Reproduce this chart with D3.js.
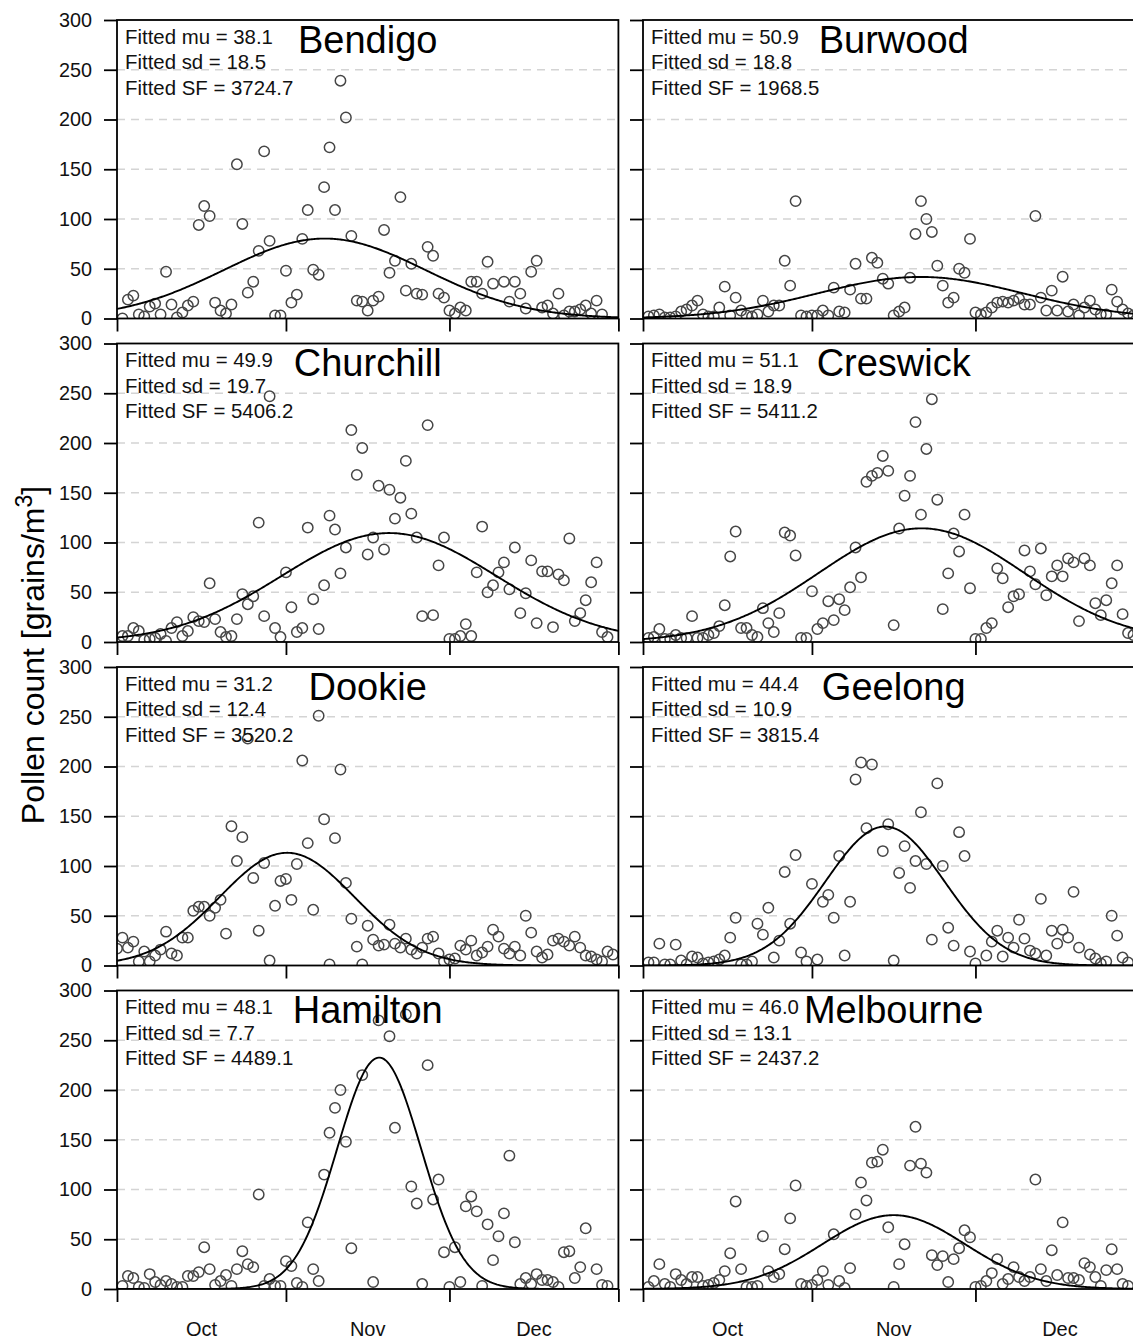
<!DOCTYPE html>
<html>
<head>
<meta charset="utf-8">
<script src="https://cdn.jsdelivr.net/npm/d3@7"></script>
<style>
  body { margin: 0; background: #fff; }
  svg { display: block; font-family: "Liberation Sans", Arial, Helvetica, sans-serif; }
</style>
</head>
<body>
<script>
// sites: [day since 1 Oct, pollen count]
const siteNames = ["Bendigo", "Burwood", "Churchill", "Creswick", "Dookie", "Geelong", "Hamilton", "Melbourne"]
const fitMu = [38.1, 50.9, 49.9, 51.1, 31.2, 44.4, 48.1, 46.0]
const fitSd = [18.5, 18.8, 19.7, 18.9, 12.4, 10.9, 7.7, 13.1]
const fitSF = [3724.7, 1968.5, 5406.2, 5411.2, 3520.2, 3815.4, 4489.1, 2437.2]

const bendigo = [[1,0],[2,19],[3,23],[4,4],[5,2],[6,12],[7,15],[8,4],[9,47],[10,14],[11,1],[12,6],[13,13],[14,17],[15,94],[16,113],[17,103],[18,16],[19,8],[20,5],[21,14],[22,155],[23,95],[24,26],[25,37],[26,68],[27,168],[28,78],[29,3],[30,3],[31,48],[32,16],[33,24],[34,80],[35,109],[36,49],[37,44],[38,132],[39,172],[40,109],[41,239],[42,202],[43,83],[44,18],[45,17],[46,8],[47,18],[48,22],[49,89],[50,46],[51,58],[52,122],[53,28],[54,55],[55,25],[56,24],[57,72],[58,63],[59,25],[60,21],[61,8],[62,5],[63,11],[64,8],[65,37],[66,37],[67,25],[68,57],[69,35],[71,37],[72,17],[73,37],[74,25],[75,10],[76,47],[77,58],[78,11],[79,13],[80,5],[81,25],[82,3],[83,7],[84,7],[85,9],[86,13],[87,5],[88,18],[89,4]]

const burwood = [[1,2],[2,3],[3,4],[4,1],[5,1],[6,2],[7,7],[8,9],[9,13],[10,18],[11,4],[12,2],[13,2],[14,11],[15,32],[16,3],[17,21],[18,8],[19,3],[20,2],[21,4],[22,18],[23,7],[24,13],[25,13],[26,58],[27,33],[28,118],[29,3],[30,2],[31,3],[32,3],[33,8],[34,3],[35,31],[36,7],[37,6],[38,29],[39,55],[40,20],[41,20],[42,61],[43,56],[44,40],[45,35],[46,3],[47,7],[48,11],[49,41],[50,85],[51,118],[52,100],[53,87],[54,53],[55,33],[56,16],[57,21],[58,50],[59,46],[60,80],[61,6],[62,4],[63,6],[64,11],[65,16],[66,17],[67,16],[68,18],[69,20],[70,14],[71,14],[72,103],[73,21],[74,8],[75,28],[76,8],[77,42],[78,7],[79,14],[80,3],[81,11],[82,18],[83,9],[84,4],[85,4],[86,29],[87,17],[88,9],[89,5],[90,3]]

const churchill = [[1,6],[2,6],[3,14],[4,11],[5,2],[6,3],[7,4],[8,8],[9,1],[10,14],[11,20],[12,6],[13,11],[14,25],[15,21],[16,20],[17,59],[18,23],[19,10],[20,5],[21,6],[22,23],[23,48],[24,38],[25,46],[26,120],[27,26],[28,247],[29,14],[30,5],[31,70],[32,35],[33,10],[34,14],[35,115],[36,43],[37,13],[38,57],[39,127],[40,113],[41,69],[42,95],[43,213],[44,168],[45,195],[46,88],[47,105],[48,157],[49,93],[50,153],[51,124],[52,145],[53,182],[54,129],[55,105],[56,26],[57,218],[58,27],[59,77],[60,105],[61,3],[62,3],[63,6],[64,18],[65,6],[66,70],[67,116],[68,50],[69,57],[70,70],[71,80],[72,53],[73,95],[74,29],[75,49],[76,82],[77,19],[78,71],[79,71],[80,15],[81,68],[82,62],[83,104],[84,21],[85,29],[86,42],[87,60],[88,80],[89,10],[90,5]]

const creswick = [[1,4],[2,5],[3,13],[4,3],[5,3],[6,7],[7,4],[8,4],[9,26],[10,4],[11,4],[12,7],[13,9],[14,16],[15,37],[16,86],[17,111],[18,14],[19,14],[20,7],[21,5],[22,34],[23,19],[24,10],[25,29],[26,110],[27,107],[28,87],[29,4],[30,4],[31,51],[32,13],[33,19],[34,41],[35,22],[36,43],[37,32],[38,55],[39,95],[40,65],[41,161],[42,167],[43,170],[44,187],[45,172],[46,17],[47,114],[48,147],[49,167],[50,221],[51,128],[52,194],[53,244],[54,143],[55,33],[56,69],[57,109],[58,91],[59,128],[60,54],[61,3],[62,3],[63,14],[64,19],[65,74],[66,64],[67,35],[68,46],[69,48],[70,92],[71,71],[72,58],[73,94],[74,47],[75,66],[76,77],[77,66],[78,84],[79,80],[80,21],[81,84],[82,77],[83,39],[84,27],[85,42],[86,59],[87,77],[88,28],[89,9],[90,7]]

const dookie = [[0,17],[1,28],[2,18],[3,24],[4,4],[5,14],[6,4],[7,10],[8,16],[9,34],[10,12],[11,10],[12,28],[13,28],[14,55],[15,59],[16,59],[17,50],[18,58],[19,66],[20,32],[21,140],[22,105],[23,129],[24,228],[25,88],[26,35],[27,103],[28,5],[29,60],[30,85],[31,87],[32,66],[33,102],[34,206],[35,123],[36,56],[37,251],[38,147],[39,1],[40,128],[41,197],[42,83],[43,47],[44,19],[45,1],[46,40],[47,26],[48,20],[49,21],[50,41],[51,22],[52,18],[53,27],[54,16],[55,12],[56,18],[57,27],[58,29],[59,12],[60,4],[61,6],[62,7],[63,20],[64,16],[65,25],[66,10],[67,13],[68,19],[69,36],[70,29],[71,17],[72,12],[73,19],[74,10],[75,50],[76,33],[77,14],[78,8],[79,11],[80,25],[81,27],[82,24],[83,20],[84,29],[85,18],[86,10],[87,9],[88,6],[89,4],[90,14],[91,11]]

const geelong = [[1,3],[2,3],[3,22],[4,1],[5,1],[6,21],[7,5],[8,1],[9,9],[10,8],[11,2],[12,3],[13,4],[14,6],[15,10],[16,28],[17,48],[18,1],[19,1],[20,4],[21,42],[22,31],[23,58],[24,8],[25,25],[26,94],[27,42],[28,111],[29,13],[30,4],[31,82],[32,6],[33,64],[34,71],[35,48],[36,110],[37,10],[38,64],[39,187],[40,204],[41,138],[42,202],[44,115],[45,142],[46,5],[47,93],[48,120],[49,78],[50,105],[51,154],[52,102],[53,26],[54,183],[55,100],[56,38],[57,20],[58,134],[59,110],[60,14],[61,2],[63,10],[64,24],[65,35],[66,9],[67,28],[68,18],[69,46],[70,27],[71,15],[72,12],[73,67],[74,10],[75,35],[76,22],[77,36],[78,28],[79,74],[80,18],[82,11],[83,7],[84,2],[85,4],[86,50],[87,30],[88,8],[89,3]]

const hamilton = [[1,3],[2,13],[3,11],[4,2],[5,1],[6,15],[7,7],[8,4],[9,8],[10,5],[11,2],[12,2],[13,13],[14,13],[15,17],[16,42],[17,20],[18,4],[19,8],[20,14],[21,3],[22,20],[23,38],[24,25],[25,22],[26,95],[27,3],[28,10],[29,3],[30,3],[31,28],[32,23],[33,6],[34,2],[35,67],[36,20],[37,8],[38,115],[39,157],[40,182],[41,200],[42,148],[43,41],[45,215],[47,7],[48,270],[50,254],[51,162],[53,276],[54,103],[55,86],[56,5],[57,225],[58,90],[59,110],[60,37],[61,2],[62,42],[63,7],[64,83],[65,93],[66,78],[67,3],[68,65],[69,29],[70,53],[71,76],[72,134],[73,47],[74,5],[75,11],[76,5],[77,15],[78,9],[79,9],[80,7],[81,2],[82,37],[83,38],[84,11],[85,22],[86,61],[88,20],[89,4],[90,3]]

const melbourne = [[1,2],[2,8],[3,25],[4,5],[5,2],[6,15],[7,9],[8,5],[9,12],[10,12],[11,3],[12,4],[13,6],[14,9],[15,18],[16,36],[17,88],[18,20],[19,2],[20,2],[21,3],[22,53],[23,18],[24,12],[25,15],[26,40],[27,71],[28,104],[29,5],[30,3],[31,4],[32,9],[33,18],[34,4],[35,55],[36,8],[37,1],[38,21],[39,75],[40,107],[41,89],[42,127],[43,128],[44,140],[45,62],[46,2],[47,25],[48,45],[49,124],[50,163],[51,126],[52,117],[53,34],[54,24],[55,33],[56,7],[57,30],[58,41],[59,59],[60,52],[61,2],[62,3],[63,8],[64,16],[65,30],[66,5],[67,10],[68,22],[69,12],[70,8],[71,12],[72,110],[73,20],[74,8],[75,39],[76,14],[77,67],[78,11],[79,11],[80,9],[81,26],[82,22],[83,12],[84,3],[85,19],[86,40],[87,20],[88,5],[89,3]]

const siteData = [bendigo, burwood, churchill, creswick, dookie, geelong, hamilton, melbourne]

const yTicks = [0, 50, 100, 150, 200, 250, 300]
const gridValues = [50, 100, 150, 200, 250]
const monthBreaks = [0, 31, 61, 92]          // Oct 1, Nov 1, Dec 1, Jan 1
const monthLabels = ["Oct", "Nov", "Dec"]
const monthMids = [15.5, 46, 76.5]

// layout
const W = 1133, H = 1339
const colLeft = [117, 643]
const panelW = 501.4
const rowTop0 = 20, rowStep = 323.5, panelH = 298.5

const svg = d3.select("body").append("svg")
    .attr("width", W).attr("height", H)
    .attr("viewBox", `0 0 ${W} ${H}`)

function normal(x, mu, sd, sf) {
    return sf * Math.exp(-((x - mu) * (x - mu)) / (2 * sd * sd)) / (sd * Math.sqrt(2 * Math.PI))
}

siteNames.forEach((name, i) => {
    const col = i % 2, row = Math.floor(i / 2)
    const x0 = colLeft[col], top = rowTop0 + row * rowStep

    const x = d3.scaleLinear().domain([0, 92]).range([x0, x0 + panelW])
    const y = d3.scaleLinear().domain([0, 300]).range([top + panelH, top])

    const g = svg.append("g").attr("class", "panel")

    g.append("clipPath").attr("id", "clip" + i)
        .append("rect")
        .attr("x", x0).attr("y", top)
        .attr("width", panelW).attr("height", panelH)

    // dashed grid
    g.append("g").selectAll("line")
        .data(gridValues)
        .join("line")
        .attr("x1", x0).attr("x2", x0 + panelW)
        .attr("y1", d => y(d)).attr("y2", d => y(d))
        .attr("stroke", "#d4d4d4")
        .attr("stroke-width", 1.4)
        .attr("stroke-dasharray", "8,6")

    const inner = g.append("g").attr("clip-path", `url(#clip${i})`)

    // points
    inner.append("g").selectAll("circle")
        .data(siteData[i])
        .join("circle")
        .attr("cx", d => x(d[0]))
        .attr("cy", d => y(d[1]))
        .attr("r", 5.2)
        .attr("fill", "none")
        .attr("stroke", "#464646")
        .attr("stroke-width", 1.5)

    // fitted curve
    const curveX = d3.range(0, 92.01, 0.25)
    inner.append("path")
        .datum(curveX)
        .attr("fill", "none")
        .attr("stroke", "#000")
        .attr("stroke-width", 1.9)
        .attr("d", d3.line()
            .x(d => x(d))
            .y(d => y(normal(d, fitMu[i], fitSd[i], fitSF[i]))))

    // axes
    const yAxis = d3.axisLeft(y).tickValues(yTicks).tickSize(13).tickPadding(12)
    if (col === 1) yAxis.tickFormat("")
    const ya = g.append("g").attr("transform", `translate(${x0},0)`).call(yAxis)

    const xAxis = d3.axisBottom(x).tickValues(monthBreaks).tickSize(13).tickFormat("")
    const xa = g.append("g").attr("transform", `translate(0,${top + panelH})`).call(xAxis)

    ya.select(".domain").remove()
    xa.select(".domain").remove()
    g.selectAll(".tick line").attr("stroke", "#000").attr("stroke-width", 1.8)
    ya.selectAll(".tick text")
        .attr("font-size", 19.8)
        .attr("fill", "#111")
        .attr("font-family", "'Liberation Sans', Arial, sans-serif")

    // frame
    g.append("rect")
        .attr("x", x0).attr("y", top)
        .attr("width", panelW).attr("height", panelH)
        .attr("fill", "none")
        .attr("stroke", "#000")
        .attr("stroke-width", 1.8)

    // fit annotation
    const ann = [
        "Fitted mu = " + fitMu[i].toFixed(1),
        "Fitted sd = " + fitSd[i].toFixed(1),
        "Fitted SF = " + fitSF[i].toFixed(1)
    ]
    g.append("g").selectAll("text")
        .data(ann)
        .join("text")
        .attr("x", x0 + 8)
        .attr("y", (d, k) => top + 23.5 + k * 25.7)
        .attr("font-size", 20.4)
        .attr("fill", "#111")
        .text(d => d)

    g.append("text")
        .attr("x", x0 + panelW / 2)
        .attr("y", top + 32.5)
        .attr("text-anchor", "middle")
        .attr("font-size", 38)
        .text(name)

    // month labels under the bottom row only
    if (row === 3) {
        g.append("g").selectAll("text")
            .data(monthLabels)
            .join("text")
            .attr("x", (d, k) => x(monthMids[k]))
            .attr("y", 1336)
            .attr("text-anchor", "middle")
            .attr("font-size", 20)
            .attr("fill", "#111")
            .text(d => d)
    }
})

// y axis title
const yTitle = svg.append("text")
    .attr("transform", "translate(44,655) rotate(-90)")
    .attr("text-anchor", "middle")
    .attr("font-size", 32)
yTitle.append("tspan").text("Pollen count [grains/m")
yTitle.append("tspan").attr("font-size", 23).attr("dy", -12).text("3")
yTitle.append("tspan").attr("dy", 12).text("]")
</script>
</body>
</html>
